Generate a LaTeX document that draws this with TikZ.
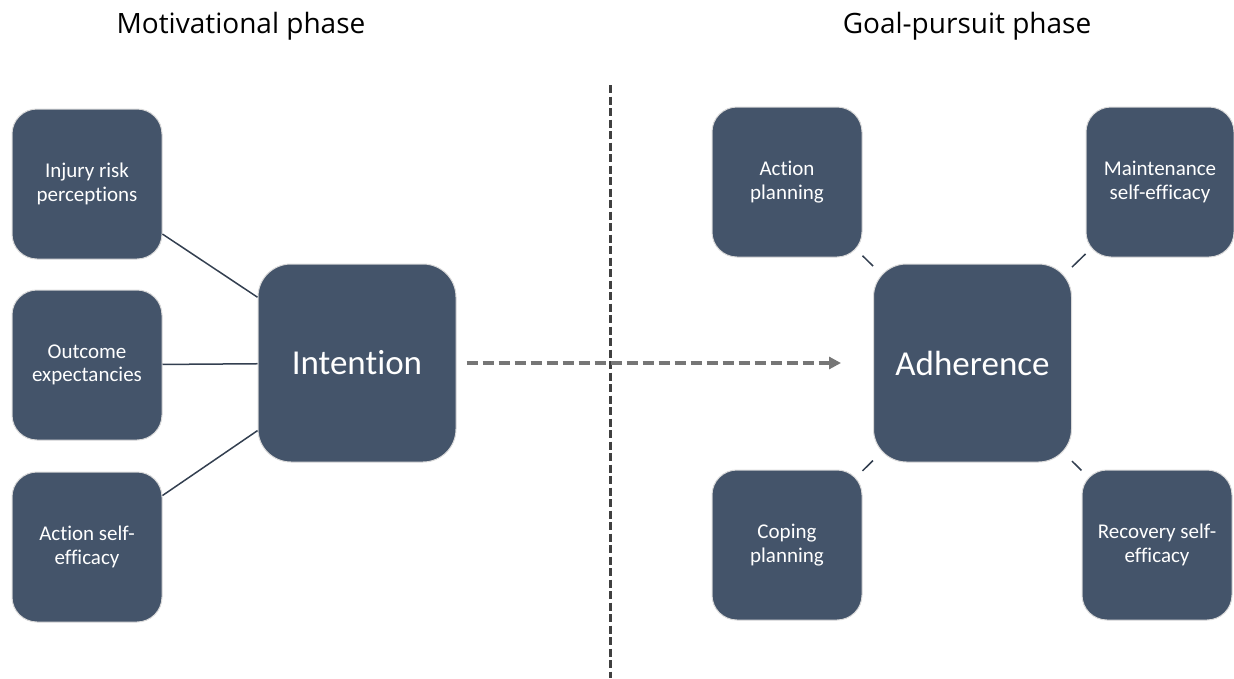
\documentclass[tikz,border=0pt]{standalone}
\usepackage{fontspec}
\setmainfont{Carlito}[Ligatures=NoCommon]
\newfontfamily\titlefont{Open Sans}
\usetikzlibrary{arrows.meta}
\definecolor{boxfill}{HTML}{44546A}
\definecolor{boxedge}{HTML}{D9D9D9}
\definecolor{linkcol}{HTML}{333F50}
\definecolor{arrowcol}{HTML}{767676}
\definecolor{sepcol}{HTML}{404040}
\begin{document}
\begin{tikzpicture}[x=1pt,y=-1pt,
  smallbox/.style={draw=boxedge, line width=1pt, fill=boxfill, text=white,
    rounded corners=25pt, minimum width=150pt, minimum height=150pt,
    align=center, inner sep=0pt, font=\fontsize{21}{23.5}\selectfont},
  bigbox/.style={draw=boxedge, line width=1pt, fill=boxfill, text=white,
    rounded corners=33pt, minimum width=198pt, minimum height=198pt,
    align=center, inner sep=0pt, font=\fontsize{35}{40}\selectfont},
  link/.style={draw=linkcol, line width=1.5pt},
  phasetitle/.style={anchor=base, font=\titlefont\fontsize{28}{32}\selectfont, text=black},
  flow/.style={draw=arrowcol, line width=4pt, dash pattern=on 11pt off 5pt,
    -{Triangle[length=12pt,width=12pt]}, shorten <=10pt, shorten >=32pt},
  sep/.style={draw=sepcol, line width=3pt, dash pattern=on 8pt off 3.5pt}
]
\useasboundingbox (0,0) rectangle (1234,678);

\node[phasetitle] (t1) at (241,33) {Motivational phase};
\node[phasetitle] (t2) at (967,33) {Goal-pursuit phase};

\coordinate (vtop) at (610,85);
\coordinate (vbot) at (610,678);
\draw[sep] (vtop) -- (vbot);

\node[smallbox] (inj) at (87,184) {Injury risk\\perceptions};
\node[smallbox] (out) at (87,365) {Outcome\\expectancies};
\node[smallbox] (ase) at (87,547) {Action self-\\efficacy};
\node[bigbox] (int) at (357,363) {Intention};

\node[bigbox] (adh) at (972.5,363) {Adherence};
\node[smallbox] (ap) at (787,182) {Action\\planning};
\node[smallbox, minimum width=148pt] (mse) at (1160,182) {Maintenance\\self-efficacy};
\node[smallbox] (cp) at (787,545) {Coping\\planning};
\node[smallbox] (rse) at (1157,545) {Recovery self-\\efficacy};

\draw[link] (inj) -- (int);
\draw[link] (out) -- (int);
\draw[link] (ase) -- (int);
\draw[link] (ap) -- (adh);
\draw[link] (mse) -- (adh);
\draw[link] (cp) -- (adh);
\draw[link] (rse) -- (adh);

\draw[flow] (int) -- (adh);
\end{tikzpicture}
\end{document}
